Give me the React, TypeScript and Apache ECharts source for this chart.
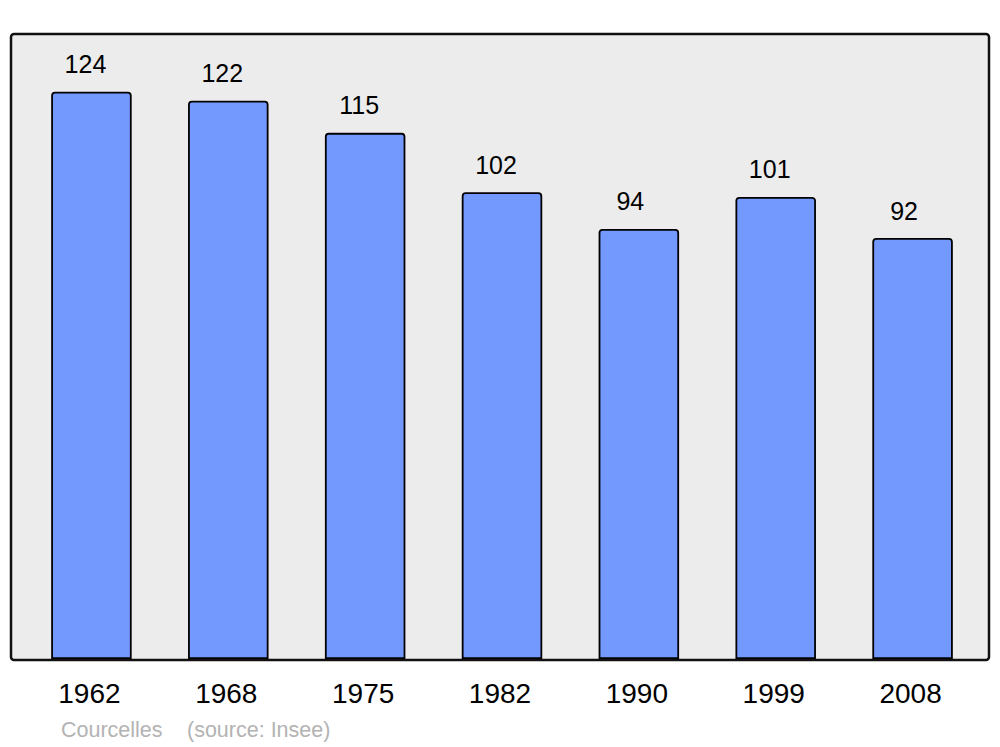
import React, { useEffect, useRef } from "react";
import * as echarts from "echarts";

const years = ["1962", "1968", "1975", "1982", "1990", "1999", "2008"];
const population = [124, 122, 115, 102, 94, 101, 92];
const footerPlace = "Courcelles";
const footerSource = "(source: Insee)";

export default function App() {
  const ref = useRef<HTMLDivElement>(null);
  useEffect(() => {
    if (!ref.current) return;
    const chart = echarts.init(ref.current, null, { renderer: "svg" });
    chart.setOption({
      animation: false,
      textStyle: { fontFamily: "Liberation Sans, Arial, sans-serif" },
      grid: { left: 23, right: 19, top: 34, bottom: 88 },
      graphic: [
        {
          type: "rect",
          z: -10,
          shape: { x: 11, y: 34, width: 978, height: 626, r: 3 },
          style: { fill: "#ececec", stroke: "#111111", lineWidth: 2.5 },
        },
        {
          type: "text",
          x: 61,
          y: 730,
          style: {
            text: footerPlace,
            fill: "#b3b3b3",
            font: "21.5px Liberation Sans, Arial, sans-serif",
            textVerticalAlign: "middle",
          },
        },
        {
          type: "text",
          x: 187,
          y: 730,
          style: {
            text: footerSource,
            fill: "#b3b3b3",
            font: "21.5px Liberation Sans, Arial, sans-serif",
            textVerticalAlign: "middle",
          },
        },
      ],
      xAxis: {
        type: "category",
        data: years,
        axisLine: { show: false },
        axisTick: { show: false },
        axisLabel: {
          color: "#000",
          fontSize: 28,
          margin: 20,
          padding: [0, 4, 0, 0],
          fontFamily: "Liberation Sans, Arial, sans-serif",
        },
      },
      yAxis: {
        type: "value",
        min: 0,
        max: 136.6,
        show: false,
        splitLine: { show: false },
      },
      series: [
        {
          type: "bar",
          barWidth: 80.5,
          data: population.map((v) => ({
            value: v,
            label: { offset: [v >= 100 ? -6 : -8.5, 1] },
          })),
          itemStyle: {
            color: "#7399ff",
            borderColor: "#000",
            borderWidth: 1.8,
            borderRadius: [3, 3, 0, 0],
          },
          label: {
            show: true,
            position: "top",
            distance: 16,
            color: "#000",
            fontSize: 25,
            fontFamily: "Liberation Sans, Arial, sans-serif",
          },
        },
      ],
    });
    return () => chart.dispose();
  }, []);
  return <div ref={ref} style={{ width: 1000, height: 747, position: "absolute", left: 0, top: 0 }} />;
}
